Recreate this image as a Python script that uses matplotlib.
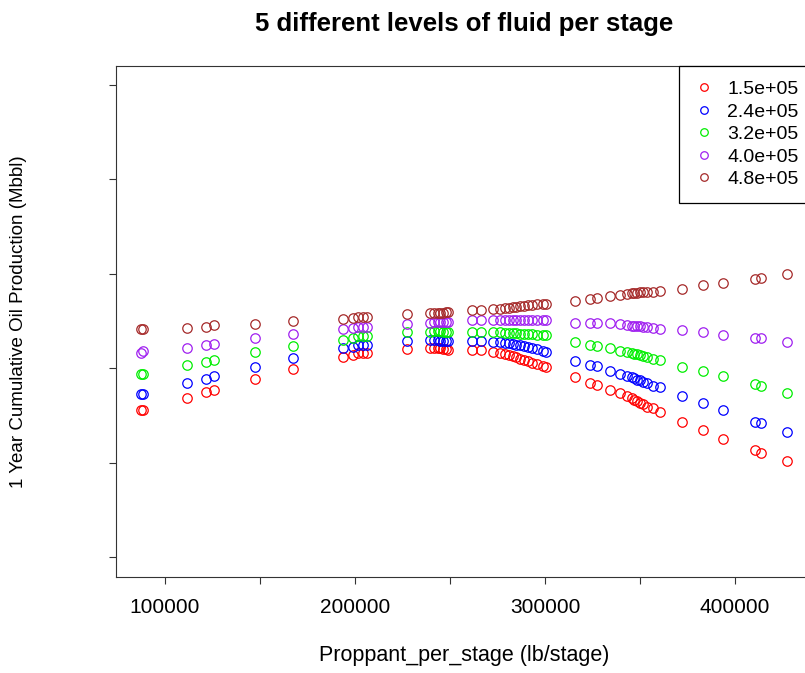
import matplotlib.pyplot as plt

plt.rcParams['font.family'] = ['Liberation Sans', 'DejaVu Sans']

# fluid per stage levels (bbl) and proppant per stage (lb)
fluid = [1.5e5, 2.4e5, 3.2e5, 4.0e5, 4.8e5]
colors = ['#FF0000', '#0000FF', '#00EE00', '#A020F0', '#A52A2A']

proppant = [87500, 88200, 111700, 121400, 126000, 147500, 167200,
            193500, 199100, 201700, 204000, 206100, 227200,
            239500, 241500, 243800, 245000, 246500, 248000, 249100,
            261400, 266200,
            272800, 276300, 279000, 281000, 283000, 285000, 287000, 289000,
            291000, 293000, 296000, 299000, 300700,
            316000, 323700, 327200, 334200, 339500, 343000, 345600, 347000,
            348500, 350000, 351500, 353500, 357000, 360500,
            371900, 383300, 393800, 410500, 413500, 427200]

# 1 year cumulative oil (Mbbl) for each fluid level
oil_150 = [51.1, 51.1, 53.6, 54.9, 55.4, 57.8, 59.8,
           62.4, 62.8, 63.2, 63.2, 63.3, 64.1,
           64.3, 64.3, 64.2, 64.2, 64.1, 64.0, 63.9,
           63.9, 63.8,
           63.5, 63.3, 63.0, 62.8, 62.5, 62.3, 62.0, 61.8,
           61.5, 61.2, 60.8, 60.4, 60.2,
           58.1, 56.9, 56.4, 55.4, 54.7, 54.0, 53.6, 53.3,
           53.0, 52.7, 52.4, 51.8, 51.5, 50.8,
           48.5, 46.8, 45.1, 42.7, 42.1, 40.3]
oil_240 = [54.5, 54.5, 56.9, 57.8, 58.3, 60.3, 62.1,
           64.2, 64.5, 64.9, 65.0, 65.0, 65.8,
           65.9, 65.9, 65.9, 65.8, 65.8, 65.8, 65.7,
           65.8, 65.7,
           65.6, 65.5, 65.4, 65.3, 65.2, 65.0, 64.9, 64.7,
           64.5, 64.3, 64.0, 63.7, 63.5,
           61.6, 60.7, 60.5, 59.5, 58.8, 58.3, 58.1, 57.9,
           57.6, 57.4, 57.1, 56.8, 56.2, 56.0,
           54.1, 52.6, 51.1, 48.6, 48.3, 46.5]
oil_320 = [58.8, 58.8, 60.6, 61.4, 61.7, 63.4, 64.6,
           66.0, 66.4, 66.8, 66.9, 66.9, 67.6,
           67.7, 67.8, 67.8, 67.8, 67.7, 67.7, 67.7,
           67.7, 67.7,
           67.6, 67.6, 67.5, 67.5, 67.4, 67.4, 67.3, 67.3,
           67.2, 67.2, 67.1, 67.0, 67.0,
           65.6, 64.9, 64.6, 64.2, 63.7, 63.4, 63.2, 63.0,
           62.9, 62.7, 62.5, 62.3, 61.9, 61.7,
           60.3, 59.3, 58.3, 56.7, 56.3, 54.8]
oil_400 = [63.3, 63.6, 64.3, 64.9, 65.2, 66.4, 67.2,
           68.3, 68.5, 68.7, 68.8, 68.8, 69.4,
           69.6, 69.7, 69.7, 69.7, 69.7, 69.7, 69.7,
           70.1, 70.1,
           70.1, 70.1, 70.1, 70.1, 70.1, 70.1, 70.1, 70.1,
           70.1, 70.1, 70.1, 70.1, 70.1,
           69.6, 69.6, 69.5, 69.5, 69.3, 69.2, 69.0, 69.0,
           68.9, 68.9, 68.8, 68.8, 68.6, 68.3,
           68.1, 67.6, 67.1, 66.3, 66.3, 65.6]
oil_480 = [68.3, 68.3, 68.6, 68.8, 69.2, 69.4, 69.9,
           70.4, 70.6, 70.8, 70.8, 70.9, 71.4,
           71.6, 71.6, 71.7, 71.7, 71.7, 71.8, 71.8,
           72.3, 72.4,
           72.5, 72.6, 72.7, 72.8, 72.9, 73.0, 73.1, 73.2,
           73.3, 73.4, 73.5, 73.6, 73.6,
           74.3, 74.7, 74.9, 75.3, 75.6, 75.7, 75.9, 76.0,
           76.0, 76.1, 76.1, 76.2, 76.2, 76.4,
           76.8, 77.6, 78.0, 78.8, 79.0, 79.9]
oil = [oil_150, oil_240, oil_320, oil_400, oil_480]

fig = plt.figure(figsize=(8.05, 6.73), dpi=100)
ax = fig.add_axes([0.1441, 0.1426, 0.8658, 0.7593])

for level, y, c in zip(fluid, oil, colors):
    ax.plot(proppant, y, 'o', mfc='none', mec=c, mew=0.9, ms=6.8,
            linestyle='none', label=f'{level:.1e}')

ax.set_xlim(74210, 441050)
ax.set_ylim(15.76, 124.0)
ax.set_xticks([100000, 150000, 200000, 250000, 300000, 350000, 400000])
ax.set_xticklabels(['100000', '', '200000', '', '300000', '', '400000'])
ax.set_yticks([20, 40, 60, 80, 100, 120])
ax.set_yticklabels([])
ax.tick_params(direction='out', length=5, width=0.8, color='#333333',
               labelsize=15, pad=10)
for s in ax.spines.values():
    s.set_color('#333333')
    s.set_linewidth(0.8)

ax.set_title('5 different levels of fluid per stage', fontsize=18.5,
             fontweight='bold', pad=25)
ax.set_xlabel('Proppant_per_stage (lb/stage)', fontsize=15.5, labelpad=20)
ax.set_ylabel('1 Year Cumulative Oil Production (Mbbl)', fontsize=13.5)
ax.yaxis.set_label_coords(-0.128, 0.5)

leg = ax.legend(loc='upper right', borderaxespad=0, fontsize=14,
                fancybox=False, edgecolor='black', framealpha=1,
                handlelength=1.0, handletextpad=0.7, labelspacing=0.25,
                borderpad=0.75, markerscale=0.8)
leg.get_frame().set_linewidth(0.9)

fig.savefig('out.png', dpi=100)
